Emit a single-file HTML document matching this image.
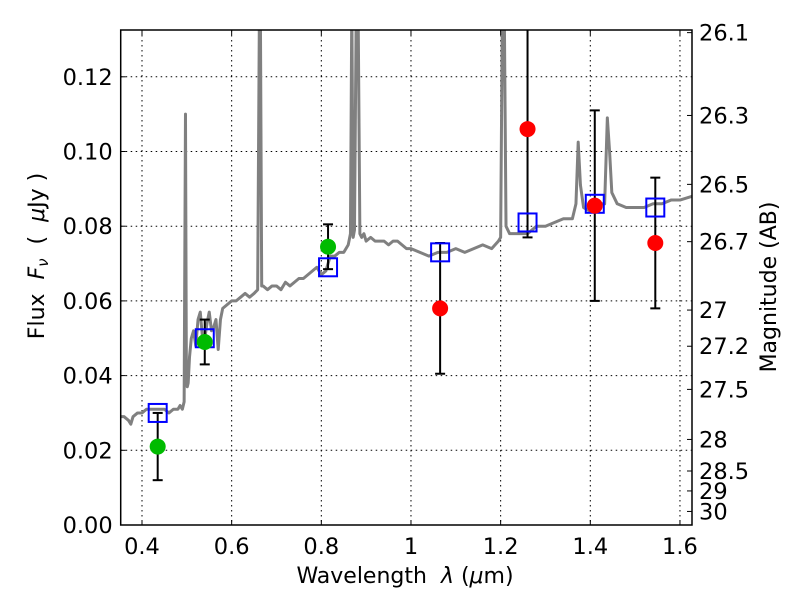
<!DOCTYPE html>
<html><head><meta charset="utf-8"><style>
body{margin:0;background:#fff;}
text{font-family:"DejaVu Sans","Liberation Sans",sans-serif;}
</style></head><body>
<svg id="chart" width="800" height="600" xmlns="http://www.w3.org/2000/svg">
<rect width="800" height="600" fill="#fff"/>
<g id="grid"></g>
<g id="plot"></g>
<g id="axes"></g>
<text x="405" y="583" font-size="22" text-anchor="middle" xml:space="preserve">Wavelength  <tspan font-style="italic">λ</tspan> (<tspan font-style="italic">μ</tspan>m)</text>
<text transform="translate(44,256) rotate(-90)" font-size="22" text-anchor="middle" xml:space="preserve">Flux  <tspan font-style="italic">F<tspan font-size="15" dy="4">ν</tspan></tspan><tspan dy="-4">  (  </tspan><tspan font-style="italic">μ</tspan>Jy )</text>
<text transform="translate(776,287) rotate(-90)" font-size="22" text-anchor="middle">Magnitude (AB)</text>
</svg>
<script>
const xTicks=[0.4,0.6,0.8,1.0,1.2,1.4,1.6];
const xTickLabels=["0.4","0.6","0.8","1","1.2","1.4","1.6"];
const yTicks=[0,0.02,0.04,0.06,0.08,0.10,0.12];
const yTickLabels=["0.00","0.02","0.04","0.06","0.08","0.10","0.12"];
const magTicks=[26.1,26.3,26.5,26.7,27,27.2,27.5,28,28.5,29,30];
const magTickLabels=["26.1","26.3","26.5","26.7","27","27.2","27.5","28","28.5","29","30"];
const specWl=[0.352,0.36,0.37,0.375,0.38,0.39,0.40,0.41,0.42,0.43,0.44,0.45,0.46,0.47,0.48,0.485,0.49,0.494,0.497,0.499,0.501,0.503,0.506,0.51,0.515,0.52,0.525,0.53,0.535,0.54,0.545,0.55,0.555,0.56,0.565,0.57,0.575,0.58,0.59,0.60,0.61,0.62,0.63,0.64,0.65,0.658,0.662,0.664,0.667,0.67,0.68,0.69,0.70,0.71,0.72,0.73,0.74,0.75,0.76,0.77,0.78,0.79,0.80,0.81,0.82,0.83,0.84,0.85,0.86,0.865,0.868,0.871,0.874,0.878,0.882,0.886,0.89,0.895,0.90,0.91,0.92,0.93,0.94,0.95,0.96,0.97,0.98,0.99,1.0,1.02,1.04,1.06,1.08,1.10,1.12,1.14,1.16,1.18,1.195,1.2,1.204,1.208,1.212,1.22,1.24,1.26,1.28,1.30,1.32,1.34,1.36,1.368,1.373,1.378,1.385,1.40,1.42,1.432,1.438,1.443,1.448,1.452,1.46,1.48,1.50,1.52,1.54,1.56,1.58,1.60,1.627];
const specFlux=[0.029,0.029,0.028,0.027,0.029,0.030,0.030,0.031,0.031,0.031,0.031,0.031,0.030,0.031,0.031,0.032,0.031,0.033,0.110,0.040,0.037,0.038,0.045,0.050,0.052,0.048,0.055,0.057,0.050,0.050,0.054,0.057,0.052,0.053,0.055,0.047,0.055,0.058,0.059,0.060,0.060,0.061,0.062,0.061,0.062,0.063,0.140,0.140,0.064,0.064,0.063,0.064,0.064,0.063,0.065,0.064,0.065,0.066,0.066,0.067,0.068,0.069,0.067,0.068,0.072,0.072,0.073,0.073,0.075,0.078,0.140,0.077,0.079,0.140,0.140,0.078,0.077,0.078,0.076,0.077,0.076,0.076,0.076,0.075,0.076,0.076,0.075,0.074,0.074,0.073,0.072,0.073,0.073,0.074,0.073,0.074,0.075,0.074,0.076,0.077,0.140,0.140,0.080,0.078,0.078,0.078,0.080,0.080,0.081,0.082,0.082,0.086,0.1025,0.091,0.085,0.084,0.086,0.086,0.109,0.100,0.089,0.088,0.086,0.085,0.085,0.085,0.086,0.086,0.087,0.087,0.088];
const modelWl=[0.435,0.54,0.815,1.065,1.26,1.41,1.545];
const modelFlux=[0.030,0.050,0.069,0.073,0.081,0.086,0.085];
const greenWl=[0.435,0.54,0.815];
const greenFlux=[0.021,0.049,0.0745];
const greenErr=[0.009,0.006,0.006];
const redWl=[1.065,1.26,1.41,1.545];
const redFlux=[0.058,0.106,0.0855,0.0755];
const redErr=[0.0175,0.029,0.0255,0.0175];

const L=120.7,R=692,T=30,B=525;
const X0=0.4,PXX=142,PPU=448.3;
const YPU=3735;
function sx(v){return PXX+(v-X0)*PPU;}
function sy(v){return B-v*YPU;}
function magY(m){return sy(Math.pow(10,(23.9-m)/2.5));}
const NS="http://www.w3.org/2000/svg";
function mk(tag,attrs,parent){const e=document.createElementNS(NS,tag);for(const k in attrs)e.setAttribute(k,attrs[k]);parent.appendChild(e);return e;}
const grid=document.getElementById('grid'),plot=document.getElementById('plot'),axes=document.getElementById('axes');

xTicks.forEach((v,i)=>{const x=sx(v);
 const g=mk('line',{x1:x,x2:x,y1:T,y2:B,stroke:'#000','stroke-width':1,'stroke-dasharray':'1.5,3.5'},grid);
 
 mk('line',{x1:x,x2:x,y1:B,y2:B-5,stroke:'#000'},axes);
 mk('line',{x1:x,x2:x,y1:T,y2:T+5,stroke:'#000'},axes);
 const t=mk('text',{x:x,y:B+29,'font-size':22.5,'text-anchor':'middle'},axes);t.textContent=xTickLabels[i];
 
});
yTicks.forEach((v,i)=>{const y=sy(v);
 if(v>0){const g=mk('line',{x1:L,x2:R,y1:y,y2:y,stroke:'#000','stroke-width':1,'stroke-dasharray':'1.5,3.5'},grid);
 }
 mk('line',{x1:L,x2:L+5,y1:y,y2:y,stroke:'#000'},axes);
 const t=mk('text',{x:L-8,y:y+8,'font-size':22.5,'text-anchor':'end'},axes);t.textContent=yTickLabels[i];
 
});
magTicks.forEach((m,i)=>{const y=magY(m);
 mk('line',{x1:R,x2:R-5,y1:y,y2:y,stroke:'#000'},axes);
 const t=mk('text',{x:R+7,y:y+8,'font-size':22.5},axes);t.textContent=magTickLabels[i];
 
});

const clip=mk('clipPath',{id:'pc'},plot);mk('rect',{x:L,y:T,width:R-L,height:B-T},clip);
const pg=mk('g',{'clip-path':'url(#pc)'},plot);
const spec=mk('polyline',{points:specWl.map((w,i)=>sx(w)+','+sy(specFlux[i])).join(' '),fill:'none',stroke:'#808080','stroke-width':3,'stroke-linejoin':'round'},pg);


function errbar(w,f,e,name){const x=sx(w);
 const g=mk('g',{},pg);
 mk('line',{x1:x,x2:x,y1:sy(f-e),y2:sy(f+e),stroke:'#000','stroke-width':2},g);
 [f-e,f+e].forEach(v=>mk('line',{x1:x-5,x2:x+5,y1:sy(v),y2:sy(v),stroke:'#000','stroke-width':2},g));}
greenWl.forEach((w,i)=>errbar(w,greenFlux[i],greenErr[i],'green-errorbar'));
redWl.forEach((w,i)=>errbar(w,redFlux[i],redErr[i],'red-errorbar'));
modelWl.forEach((w,i)=>{const r=mk('rect',{x:sx(w)-9,y:sy(modelFlux[i])-9,width:18,height:18,fill:'none',stroke:'#0000ff','stroke-width':2},pg);
 });
greenWl.forEach((w,i)=>{const c=mk('circle',{cx:sx(w),cy:sy(greenFlux[i]),r:8,fill:'#00bb00'},pg);
 });
redWl.forEach((w,i)=>{const c=mk('circle',{cx:sx(w),cy:sy(redFlux[i]),r:8,fill:'#ff0000'},pg);
 });
const fr=mk('rect',{x:L,y:T,width:R-L,height:B-T,fill:'none',stroke:'#000','stroke-width':1.5},axes);

</script>
</body></html>
